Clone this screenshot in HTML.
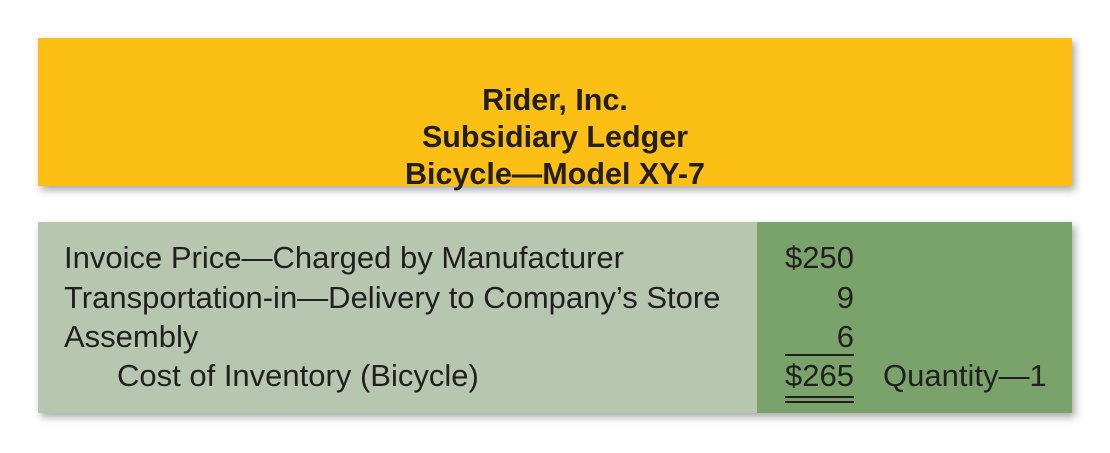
<!DOCTYPE html>
<html><head><style>
body{margin:0;width:1110px;height:453px;background:#fff;position:relative;overflow:hidden;font-family:"Liberation Sans",sans-serif;color:#231f20}
.hdr{position:absolute;left:38px;top:38px;width:1034px;height:148px;background:#fcbf15;box-shadow:3px 4px 8px rgba(0,0,0,.35);text-align:center;font-weight:bold;font-size:30.5px;line-height:37px;padding-top:44px;box-sizing:border-box}
.body{position:absolute;left:38px;top:222px;width:1034px;height:191px;box-shadow:3px 4px 8px rgba(0,0,0,.35)}
.l{position:absolute;left:0;top:0;width:719px;height:191px;background:#b6c6af}
.r{position:absolute;left:719px;top:0;width:315px;height:191px;background:#7aa26b}
.t{position:absolute;font-size:31px;white-space:nowrap;line-height:32px}
.n{position:absolute;font-size:31px;line-height:32px;right:218px;text-align:right}
</style></head><body>
<div class="hdr">
<div>Rider, Inc.</div>
<div>Subsidiary Ledger</div>
<div>Bicycle—Model XY-7</div>
</div>
<div class="body">
<div class="l"></div>
<div class="r"></div>
<div class="t" style="left:26px;top:20px">Invoice Price—Charged by Manufacturer</div>
<div class="t" style="left:26px;top:60px">Transportation-in—Delivery to Company’s Store</div>
<div class="t" style="left:26px;top:99px">Assembly</div>
<div class="t" style="left:79px;top:138px">Cost of Inventory (Bicycle)</div>
<div class="n" style="top:20px">$250</div>
<div class="n" style="top:60px">9</div>
<div class="n" style="top:99px">6</div>
<div class="n" style="top:138px">$265</div>
<div style="position:absolute;left:747px;top:132px;width:69px;height:2px;background:#231f20"></div>
<div style="position:absolute;left:747px;top:174px;width:69px;height:2px;background:#231f20"></div>
<div style="position:absolute;left:747px;top:179px;width:69px;height:2px;background:#231f20"></div>
<div class="t" style="left:845px;top:138px">Quantity—1</div>
</div>
</body></html>
